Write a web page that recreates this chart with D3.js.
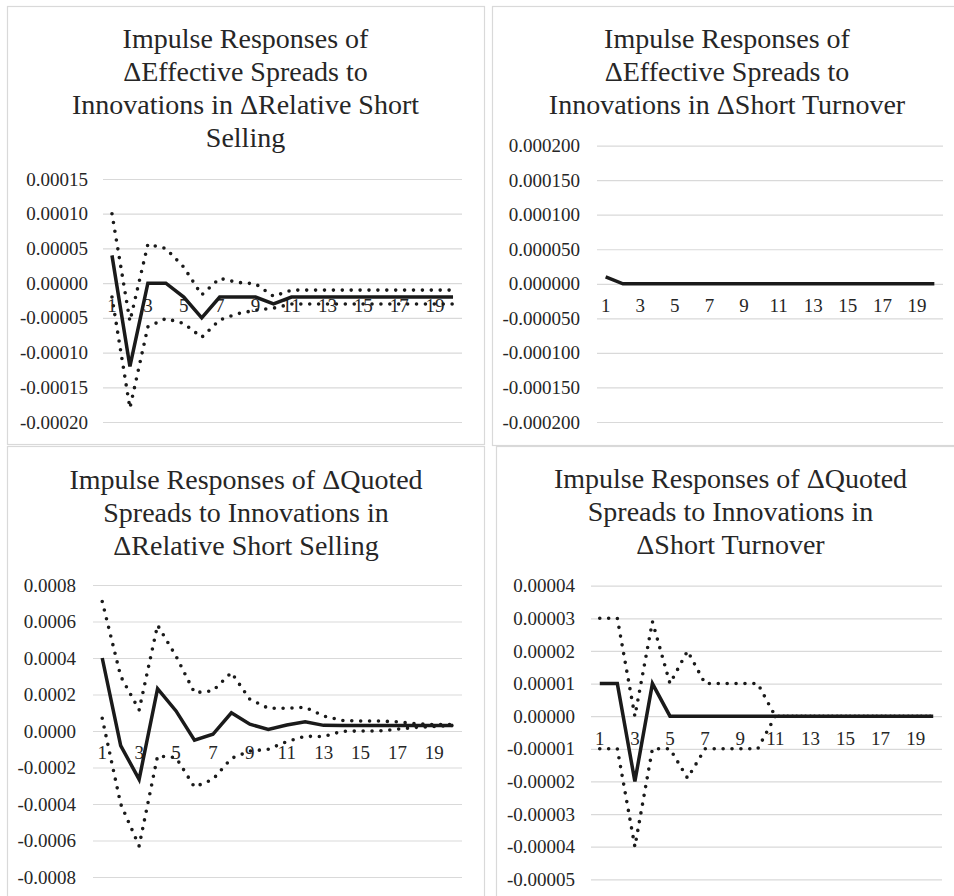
<!DOCTYPE html>
<html>
<head>
<meta charset="utf-8">
<script src="https://cdn.jsdelivr.net/npm/d3@7"></script>
<style>
  body { margin: 0; background: #fff; }
</style>
</head>
<body>
<div id="chart"></div>
<script>
// periods on the category axis
var periods = [1, 2, 3, 4, 5, 6, 7, 8, 9, 10, 11, 12, 13, 14, 15, 16, 17, 18, 19, 20];
var xLabels = [1, 3, 5, 7, 9, 11, 13, 15, 17, 19];

// dEffective spreads <- dRelative short selling
var effRelMid = [0.00004, -0.00012, 0, 0, -0.00002, -0.00005, -0.00002, -0.00002, -0.00002, -0.00003,
  -0.00002, -0.00002, -0.00002, -0.00002, -0.00002, -0.00002, -0.00002, -0.00002, -0.00002, -0.00002];
var effRelUp = [0.00010, -0.000055, 0.000056, 0.00005, 0.000023, -0.000017, 0.000007, 0.000001, -0.000001, -0.000019,
  -0.00001, -0.00001, -0.00001, -0.00001, -0.00001, -0.00001, -0.00001, -0.00001, -0.00001, -0.00001];
var effRelLow = [-0.00002, -0.00018, -0.000063, -0.000051, -0.000058, -0.000078, -0.000053, -0.000044, -0.000039, -0.000036,
  -0.00003, -0.00003, -0.00003, -0.00003, -0.00003, -0.00003, -0.00003, -0.00003, -0.00003, -0.00003];
var effRelTicks = [0.00015, 0.0001, 0.00005, 0, -0.00005, -0.0001, -0.00015, -0.0002];

// dEffective spreads <- dShort turnover
var effTurnMid = [0.00001, 0, 0, 0, 0, 0, 0, 0, 0, 0, 0, 0, 0, 0, 0, 0, 0, 0, 0, 0];
var effTurnTicks = [0.0002, 0.00015, 0.0001, 0.00005, 0, -0.00005, -0.0001, -0.00015, -0.0002];

// dQuoted spreads <- dRelative short selling
var qtdRelMid = [0.0004, -0.00008, -0.000265, 0.000232, 0.00011, -0.00005, -0.000018, 0.0001, 0.000037, 0.000009,
  0.000033, 0.000051, 0.000031, 0.00003, 0.00003, 0.00003, 0.00003, 0.00003, 0.00003, 0.00003];
var qtdRelUp = [0.00071, 0.0003, 0.000115, 0.00058, 0.00041, 0.00021, 0.00022, 0.00032, 0.000174, 0.000125,
  0.000125, 0.00013, 0.000082, 0.000058, 0.000055, 0.000055, 0.00005, 0.00004, 0.000035, 0.000035];
var qtdRelLow = [0.00007, -0.0004, -0.00063, -0.000137, -0.000146, -0.000307, -0.000265, -0.00015, -0.00011, -0.0001,
  -0.000058, -0.000029, -0.00003, -0.000002, 0, 0, 0.00001, 0.00002, 0.000025, 0.00003];
var qtdRelTicks = [0.0008, 0.0006, 0.0004, 0.0002, 0, -0.0002, -0.0004, -0.0006, -0.0008];

// dQuoted spreads <- dShort turnover
var qtdTurnMid = [0.00001, 0.00001, -0.00002, 0.00001, 0, 0, 0, 0, 0, 0, 0, 0, 0, 0, 0, 0, 0, 0, 0, 0];
var qtdTurnUp = [0.00003, 0.00003, 0, 0.000029, 0.00001, 0.00002, 0.00001, 0.00001, 0.00001, 0.00001,
  0, 0, 0, 0, 0, 0, 0, 0, 0, 0];
var qtdTurnLow = [-0.00001, -0.00001, -0.00004, -0.00001, -0.00001, -0.000019, -0.00001, -0.00001, -0.00001, -0.00001,
  0, 0, 0, 0, 0, 0, 0, 0, 0, 0];
var qtdTurnTicks = [0.00004, 0.00003, 0.00002, 0.00001, 0, -0.00001, -0.00002, -0.00003, -0.00004, -0.00005];

var titles = [
  ["Impulse Responses of", "\u0394Effective Spreads to", "Innovations in \u0394Relative Short", "Selling"],
  ["Impulse Responses of", "\u0394Effective Spreads to", "Innovations in \u0394Short Turnover"],
  ["Impulse Responses of \u0394Quoted", "Spreads to Innovations in", "\u0394Relative Short Selling"],
  ["Impulse Responses of \u0394Quoted", "Spreads to Innovations in", "\u0394Short Turnover"]
];

// plain hyphen for negatives, like the original
var locale = d3.formatLocale({decimal: ".", thousands: ",", grouping: [3], currency: ["", ""], minus: "-"});

var font = "'Liberation Serif', 'Times New Roman', serif";

var svg = d3.select("#chart")
  .append("svg")
  .attr("width", 954)
  .attr("height", 896);

// one panel of the 2x2 grid
function drawPanel(p) {
  var g = svg.append("g");

  // panel frame
  g.append("rect")
    .attr("x", p.box[0] + 0.5)
    .attr("y", p.box[1] + 0.5)
    .attr("width", p.box[2] - p.box[0])
    .attr("height", p.box[3] - p.box[1])
    .attr("fill", "#fff")
    .attr("stroke", "#d9d9d9")
    .attr("stroke-width", 1.2);

  // title
  g.append("text")
    .attr("text-anchor", "middle")
    .attr("font-family", font)
    .attr("font-size", "28px")
    .attr("fill", "#262626")
    .selectAll("tspan")
    .data(p.title)
    .enter()
    .append("tspan")
    .attr("x", p.titleX)
    .attr("y", function(d, i) { return p.titleY + i * 33; })
    .text(function(d) { return d; });

  var x = d3.scaleBand()
    .domain(periods)
    .range([p.left, p.right]);

  var y = d3.scaleLinear()
    .domain([p.ticks[p.ticks.length - 1], p.ticks[0]])
    .range([p.bottom, p.top]);

  // gridlines
  g.append("g")
    .attr("transform", "translate(" + p.left + ",0)")
    .call(d3.axisLeft(y).tickValues(p.ticks).tickSize(-(p.right - p.left)).tickFormat(""))
    .call(function(a) { a.select(".domain").remove(); })
    .selectAll("line")
    .attr("stroke", "#d9d9d9")
    .attr("stroke-width", 1.2);

  // y labels
  g.append("g")
    .attr("transform", "translate(" + p.labelX + ",0)")
    .call(d3.axisLeft(y).tickValues(p.ticks).tickSize(0).tickPadding(0).tickFormat(locale.format(p.fmt)))
    .call(function(a) { a.select(".domain").remove(); })
    .selectAll("text")
    .attr("font-family", font)
    .attr("font-size", "19px")
    .attr("fill", "#262626");

  // x labels hang under the zero line
  g.append("g")
    .attr("transform", "translate(0," + y(0) + ")")
    .call(d3.axisBottom(x).tickValues(xLabels).tickSize(0).tickPadding(15))
    .call(function(a) { a.select(".domain").remove(); })
    .selectAll("text")
    .attr("font-family", font)
    .attr("font-size", "19px")
    .attr("fill", "#262626");

  var line = d3.line()
    .x(function(d, i) { return x(periods[i]) + x.bandwidth() / 2; })
    .y(function(d) { return y(d); });

  // confidence bands, round dots
  p.bands.forEach(function(b) {
    g.append("path")
      .datum(b)
      .attr("d", line)
      .attr("fill", "none")
      .attr("stroke", "#1a1a1a")
      .attr("stroke-width", 3.6)
      .attr("stroke-linecap", "round")
      .attr("stroke-dasharray", "0 8.9");
  });

  // point estimate
  g.append("path")
    .datum(p.mid)
    .attr("d", line)
    .attr("fill", "none")
    .attr("stroke", "#1a1a1a")
    .attr("stroke-width", 3.5)
    .attr("stroke-linejoin", "miter");
}

drawPanel({
  box: [7, 6, 484, 444], title: titles[0], titleX: 245.5, titleY: 48,
  left: 103, right: 462, top: 179, bottom: 422, labelX: 88,
  ticks: effRelTicks, fmt: ".5f", mid: effRelMid, bands: [effRelUp, effRelLow]
});

drawPanel({
  box: [492, 6, 962, 445], title: titles[1], titleX: 727, titleY: 48,
  left: 597, right: 943, top: 145.6, bottom: 422, labelX: 580,
  ticks: effTurnTicks, fmt: ".6f", mid: effTurnMid, bands: []
});

drawPanel({
  box: [7, 446, 484, 910], title: titles[2], titleX: 246, titleY: 489,
  left: 93, right: 462, top: 585, bottom: 877, labelX: 76,
  ticks: qtdRelTicks, fmt: ".4f", mid: qtdRelMid, bands: [qtdRelUp, qtdRelLow]
});

drawPanel({
  box: [496, 446, 965, 910], title: titles[3], titleX: 730.5, titleY: 488,
  left: 591, right: 942, top: 585.7, bottom: 879.3, labelX: 575,
  ticks: qtdTurnTicks, fmt: ".5f", mid: qtdTurnMid, bands: [qtdTurnUp, qtdTurnLow]
});
</script>
</body>
</html>
